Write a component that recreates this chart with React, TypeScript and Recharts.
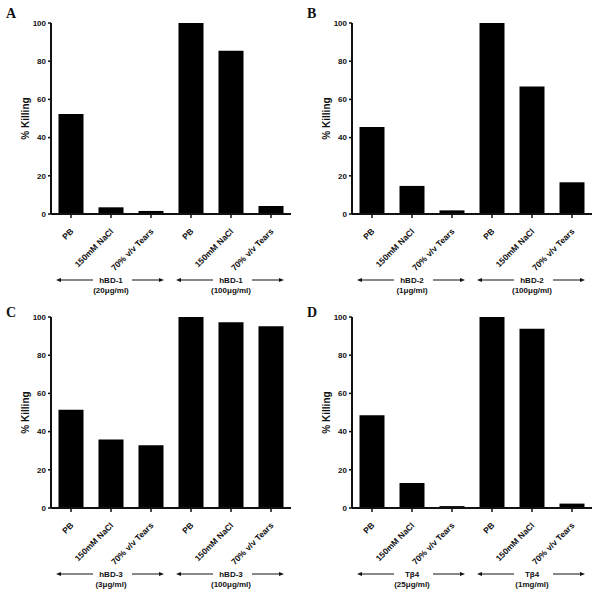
import React from 'react';
import { BarChart, Bar, XAxis, YAxis } from 'recharts';

const conditions = ['PB', '150mM NaCl', '70% v/v Tears'];
const yTicks = [0, 20, 40, 60, 80, 100];

const peptideA = 'hBD-1';
const concA = ['(20μg/ml)', '(100μg/ml)'];
const valuesA = [52.4, 3.5, 1.6, 100, 85.5, 4.2];

const peptideB = 'hBD-2';
const concB = ['(1μg/ml)', '(100μg/ml)'];
const valuesB = [45.5, 14.7, 1.9, 100, 66.8, 16.6];

const peptideC = 'hBD-3';
const concC = ['(3μg/ml)', '(100μg/ml)'];
const valuesC = [51.4, 35.9, 32.8, 100, 97.2, 95.1];

const peptideD = 'Tβ4';
const concD = ['(25μg/ml)', '(1mg/ml)'];
const valuesD = [48.6, 13.1, 1.0, 100, 93.9, 2.3];

const FONT = '"Liberation Sans", Arial, sans-serif';

function buildRows(peptide: string, conc: string[], values: number[]) {
  const rows: { cond: string; group: string; value: number }[] = [];
  conc.forEach((c, g) => {
    conditions.forEach((cond, i) => {
      rows.push({ cond, group: `${peptide}|${c}`, value: values[g * 3 + i] });
    });
  });
  return rows;
}

const CondTick = (props: any) => {
  const { x, y, payload } = props;
  return (
    <g transform={`translate(${x + 3},${y + 12})`}>
      <text
        textAnchor="end"
        transform="rotate(-45)"
        fontSize={8.5}
        fontWeight={700}
        fontFamily={FONT}
        fill="#111"
      >
        {payload.value}
      </text>
    </g>
  );
};

const GroupTick = (props: any) => {
  const { x, y, payload } = props;
  const [name, conc] = String(payload.value).split('|');
  const ay = y + 10;
  return (
    <g>
      <line x1={x - 52} y1={ay} x2={x - 18} y2={ay} stroke="#111" strokeWidth={1} />
      <polygon points={`${x - 55},${ay} ${x - 50},${ay - 2} ${x - 50},${ay + 2}`} fill="#111" />
      <line x1={x + 21} y1={ay} x2={x + 50} y2={ay} stroke="#111" strokeWidth={1} />
      <polygon points={`${x + 53},${ay} ${x + 48},${ay - 2} ${x + 48},${ay + 2}`} fill="#111" />
      <text x={x} y={ay} dy="0.35em" textAnchor="middle" fontSize={8} fontWeight={700} fontFamily={FONT} fill="#111">
        {name}
      </text>
      <text x={x} y={ay + 10} dy="0.35em" textAnchor="middle" fontSize={8} fontWeight={700} fontFamily={FONT} fill="#111">
        {conc}
      </text>
    </g>
  );
};

const YLabel = (props: any) => {
  const { viewBox } = props;
  const cx = 25;
  const cy = viewBox.y + viewBox.height / 2;
  return (
    <text
      x={cx}
      y={cy}
      dy="0.35em"
      textAnchor="middle"
      transform={`rotate(-90, ${cx}, ${cy})`}
      fontSize={10}
      fontWeight={700}
      fontFamily={FONT}
      fill="#111"
    >
      % Killing
    </text>
  );
};

function Panel(props: { letter: string; peptide: string; conc: string[]; values: number[]; left: number; top: number; letterY: number }) {
  const data = buildRows(props.peptide, props.conc, props.values);
  return (
    <div style={{ position: 'absolute', left: props.left, top: props.top, width: 300, height: 297 }}>
      <BarChart
        width={300}
        height={297}
        data={data}
        margin={{ top: 23, right: 9, bottom: 0, left: 0 }}
        barCategoryGap="18.75%"
      >
        <XAxis
          xAxisId="x1"
          dataKey="cond"
          interval={0}
          height={56}
          tickSize={4}
          tickMargin={2}
          axisLine={{ stroke: '#111', strokeWidth: 2 }}
          tickLine={{ stroke: '#111', strokeWidth: 1.5 }}
          tick={<CondTick />}
        />
        <XAxis
          xAxisId="x2"
          dataKey="group"
          allowDuplicatedCategory={false}
          interval={0}
          height={27}
          tickSize={0}
          tickMargin={0}
          axisLine={false}
          tickLine={false}
          tick={<GroupTick />}
        />
        <YAxis
          domain={[0, 100]}
          ticks={yTicks}
          width={51}
          tickSize={3}
          tickMargin={2}
          axisLine={{ stroke: '#111', strokeWidth: 2 }}
          tickLine={{ stroke: '#111', strokeWidth: 1.5 }}
          tick={{ fontSize: 8, fontWeight: 700, fill: '#111', fontFamily: FONT }}
          label={<YLabel />}
        />
        <Bar xAxisId="x1" dataKey="value" fill="#000" isAnimationActive={false} />
      </BarChart>
      <svg width={30} height={30} style={{ position: 'absolute', left: 0, top: 0 }}>
        <text x={6} y={props.letterY} fontSize={14} fontWeight={700} fontFamily='"Liberation Serif", "Times New Roman", serif' fill="#111">
          {props.letter}
        </text>
      </svg>
    </div>
  );
}

export default function App() {
  return (
    <div style={{ position: 'absolute', left: 0, top: 0, width: 600, height: 594, background: '#fff' }}>
      <Panel letter="A" peptide={peptideA} conc={concA} values={valuesA} left={0} top={0} letterY={17.5} />
      <Panel letter="B" peptide={peptideB} conc={concB} values={valuesB} left={301} top={0} letterY={17.5} />
      <Panel letter="C" peptide={peptideC} conc={concC} values={valuesC} left={0} top={294} letterY={23} />
      <Panel letter="D" peptide={peptideD} conc={concD} values={valuesD} left={301} top={294} letterY={23} />
    </div>
  );
}
